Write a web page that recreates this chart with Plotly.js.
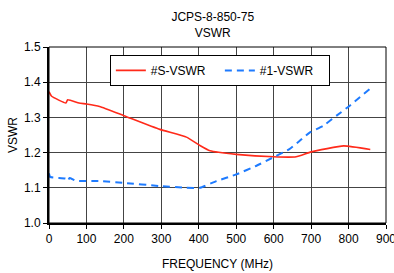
<!DOCTYPE html>
<html><head><meta charset="utf-8">
<script src="https://cdn.plot.ly/plotly-3.0.1.min.js"></script>
<style>html,body{margin:0;padding:0;background:#fff}#c{width:394px;height:273px}</style>
</head><body><div id="c"></div>
<script>
const sFreq = [0, 7, 45, 50, 80, 100, 135, 200, 296, 367, 403, 430, 500, 600, 660, 700, 787, 858];
const sVswr = [1.373, 1.36, 1.341, 1.35, 1.341, 1.338, 1.331, 1.305, 1.266, 1.244, 1.22, 1.205, 1.195, 1.188, 1.188, 1.202, 1.219, 1.209];
const oneFreq = [0, 3, 45, 50, 55, 72, 135, 200, 296, 367, 403, 447, 500, 553, 598, 642, 669, 696, 732, 768, 804, 858];
const oneVswr = [1.141, 1.131, 1.126, 1.12, 1.128, 1.12, 1.119, 1.114, 1.105, 1.10, 1.10, 1.119, 1.138, 1.162, 1.186, 1.21, 1.233, 1.257, 1.276, 1.305, 1.334, 1.382];
const xTicks = [0, 100, 200, 300, 400, 500, 600, 700, 800, 900];
const yTicks = [1.0, 1.1, 1.2, 1.3, 1.4, 1.5];
const seriesNames = ['#S-VSWR', '#1-VSWR'];

const data = [
  {x: sFreq, y: sVswr, name: seriesNames[0], mode: 'lines', line: {color: '#ff2a1a', width: 1.6, shape: 'spline', smoothing: 0.4}},
  {x: oneFreq, y: oneVswr, name: seriesNames[1], mode: 'lines', line: {color: '#1e7bff', width: 2, dash: '7px,5px', shape: 'spline', smoothing: 0.4}}
];
const font = {family: 'Liberation Sans, Arial, sans-serif', size: 12, color: '#000'};
const layout = {
  width: 394, height: 273,
  margin: {l: 49, r: 8, t: 47, b: 50},
  paper_bgcolor: '#fff', plot_bgcolor: '#fff',
  font: font,
  title: {text: 'JCPS-8-850-75<br>VSWR', x: 0.54, xanchor: 'center', yref: 'paper', y: 1, yanchor: 'bottom', pad: {b: 26}, font: {family: font.family, size: 12, color: '#000'}},
  showlegend: true,
  legend: {orientation: 'h', x: 0.507, xanchor: 'center', y: 0.955, yanchor: 'top', bgcolor: '#fff', bordercolor: '#000', borderwidth: 1, font: {family: font.family, size: 12}, itemwidth: 30, entrywidth: 64},
  xaxis: {
    range: [0, 900], tickvals: xTicks, ticktext: xTicks.map(String),
    showgrid: true, gridcolor: '#444', gridwidth: 1,
    showline: true, linecolor: '#000', linewidth: 2, mirror: false,
    ticks: 'outside', ticklen: 4, tickcolor: '#000',
    zeroline: false, tickfont: font, ticklabeloverflow: 'allow', automargin: false,
    title: {text: 'FREQUENCY (MHz)', font: font, standoff: 14}
  },
  yaxis: {
    range: [1.0, 1.5], tickvals: yTicks, ticktext: yTicks.map(v => v.toFixed(1)),
    showgrid: true, gridcolor: '#444', gridwidth: 1,
    showline: true, linecolor: '#000', linewidth: 2,
    ticks: 'outside', ticklen: 4, tickcolor: '#000',
    zeroline: false, tickfont: font,
    title: {text: 'VSWR', font: font, standoff: 4}
  },
  shapes: [
    {type: 'rect', xref: 'paper', yref: 'paper', x0: 0, x1: 1, y0: 0, y1: 1, line: {color: '#000', width: 1}}
  ]
};
Plotly.newPlot('c', data, layout, {staticPlot: true, displayModeBar: false});
</script></body></html>
